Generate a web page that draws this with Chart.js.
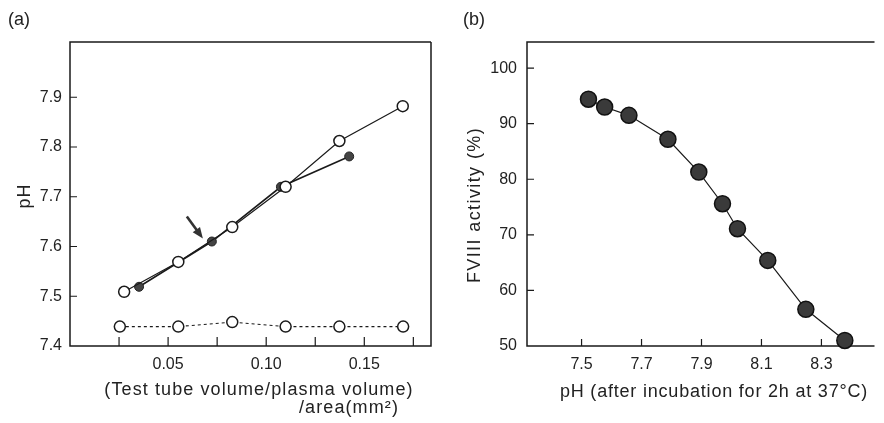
<!DOCTYPE html>
<html>
<head>
<meta charset="utf-8">
<script src="https://cdn.jsdelivr.net/npm/chart.js@4.4.0/dist/chart.umd.min.js"></script>
<style>
  html, body { margin: 0; padding: 0; background: #fff; }
  #wrap { position: relative; width: 884px; height: 423px; }
  canvas { position: absolute; top: 0; }
  #chart-a { left: 0; }
  #chart-b { left: 442px; }
</style>
</head>
<body>
<div id="wrap">
  <canvas id="chart-a" width="442" height="423"></canvas>
  <canvas id="chart-b" width="442" height="423"></canvas>
</div>
<script>
// (a) pH against (test tube volume / plasma volume) / area
const ratioOpen = [0.0276, 0.0552, 0.0827, 0.1099, 0.1373, 0.1696];
const phOpen = [7.509, 7.569, 7.639, 7.72, 7.812, 7.882];
const ratioFilled = [0.0352, 0.0723, 0.1075, 0.1423];
const phFilled = [7.519, 7.61, 7.72, 7.781];
const ratioControl = [0.0254, 0.0552, 0.0827, 0.1099, 0.1373, 0.1698];
const phControl = [7.439, 7.439, 7.448, 7.439, 7.439, 7.439];
const xTicksA = [0.025, 0.05, 0.075, 0.1, 0.125, 0.15, 0.175];
const xLabelsA = ['', '0.05', '', '0.10', '', '0.15', ''];
const yTicksA = [7.4, 7.5, 7.6, 7.7, 7.8, 7.9];

// (b) FVIII activity against pH after incubation
const phIncubated = [7.523, 7.577, 7.658, 7.788, 7.891, 7.970, 8.020, 8.121, 8.248, 8.378];
const fviiiActivity = [94.4, 93.0, 91.5, 87.2, 81.3, 75.6, 71.1, 65.4, 56.6, 51.0];
const xTicksB = [7.5, 7.7, 7.9, 8.1, 8.3];
const yTicksB = [50, 60, 70, 80, 90, 100];

const FONT = "'Liberation Sans', Arial, Helvetica, sans-serif";
const INK = '#1a1a1a';

function points(xs, ys) {
  return xs.map((x, i) => ({ x: x, y: ys[i] }));
}

// frame, inward tick marks, texts and the arrow
const panelPlugin = {
  id: 'panel',
  beforeDatasetsDraw(chart, args, opts) {
    const ctx = chart.ctx;
    const a = chart.chartArea;
    ctx.save();
    ctx.strokeStyle = INK;
    ctx.lineWidth = 1.5;
    ctx.beginPath();
    ctx.moveTo(a.right, a.top);
    ctx.lineTo(a.left, a.top);
    ctx.lineTo(a.left, a.bottom);
    ctx.lineTo(a.right, a.bottom);
    if (opts.closed) ctx.lineTo(a.right, a.top);
    ctx.stroke();

    ctx.lineWidth = 1.2;
    const xs = chart.scales.x;
    const ys = chart.scales.y;
    ctx.beginPath();
    xs.ticks.forEach(t => {
      const px = xs.getPixelForValue(t.value);
      if (px > a.left + 2 && px < a.right - 2) {
        ctx.moveTo(px, a.bottom);
        ctx.lineTo(px, a.bottom - opts.xTickLen);
      }
    });
    ys.ticks.forEach(t => {
      const py = ys.getPixelForValue(t.value);
      if (py > a.top + 2 && py < a.bottom - 2) {
        ctx.moveTo(a.left, py);
        ctx.lineTo(a.left + opts.yTickLen, py);
      }
    });
    ctx.stroke();
    ctx.restore();
  },
  afterDraw(chart, args, opts) {
    const ctx = chart.ctx;
    ctx.save();
    ctx.fillStyle = '#222';
    ctx.textBaseline = 'middle';
    (opts.texts || []).forEach(t => {
      ctx.save();
      ctx.font = (t.size || 18) + 'px ' + FONT;
      ctx.letterSpacing = (t.spacing || 0) + 'px';
      ctx.textAlign = t.align || 'center';
      ctx.translate(t.x, t.y);
      if (t.rotate) ctx.rotate(-Math.PI / 2);
      ctx.fillText(t.text, 0, 0);
      ctx.restore();
    });

    if (opts.arrow) {
      const p = chart.getDatasetMeta(opts.arrow.dataset).data[opts.arrow.index];
      const tipX = p.x - 9, tipY = p.y - 3;
      const tailX = tipX - 16, tailY = tipY - 22;
      const ang = Math.atan2(tipY - tailY, tipX - tailX);
      ctx.strokeStyle = '#333';
      ctx.fillStyle = '#333';
      ctx.lineWidth = 2.6;
      ctx.beginPath();
      ctx.moveTo(tailX, tailY);
      ctx.lineTo(tipX - 8 * Math.cos(ang), tipY - 8 * Math.sin(ang));
      ctx.stroke();
      ctx.beginPath();
      ctx.moveTo(tipX, tipY);
      ctx.lineTo(tipX - 11 * Math.cos(ang) + 4.5 * Math.sin(ang), tipY - 11 * Math.sin(ang) - 4.5 * Math.cos(ang));
      ctx.lineTo(tipX - 11 * Math.cos(ang) - 4.5 * Math.sin(ang), tipY - 11 * Math.sin(ang) + 4.5 * Math.cos(ang));
      ctx.closePath();
      ctx.fill();
    }
    ctx.restore();
  }
};

function tickFont() {
  return { family: FONT, size: 16 };
}

new Chart(document.getElementById('chart-a'), {
  type: 'line',
  data: {
    datasets: [
      {
        data: points(ratioOpen, phOpen),
        borderColor: INK,
        borderWidth: 1.2,
        pointRadius: 5.5,
        pointBackgroundColor: '#fff',
        pointBorderColor: INK,
        pointBorderWidth: 1.5,
        clip: false
      },
      {
        data: points(ratioFilled, phFilled),
        borderColor: INK,
        borderWidth: 1.6,
        pointRadius: 4.5,
        pointBackgroundColor: '#444',
        pointBorderColor: '#222',
        pointBorderWidth: 1,
        clip: false
      },
      {
        data: points(ratioControl, phControl),
        borderColor: INK,
        borderWidth: 1.2,
        borderDash: [3, 3],
        pointRadius: 5.5,
        pointBackgroundColor: '#fff',
        pointBorderColor: INK,
        pointBorderWidth: 1.5,
        clip: false
      }
    ]
  },
  options: {
    responsive: false,
    animation: false,
    devicePixelRatio: 1,
    layout: { padding: { top: 42, right: 11, left: 0, bottom: 0 } },
    plugins: {
      legend: { display: false },
      tooltip: { enabled: false },
      panel: {
        closed: true,
        xTickLen: 9,
        yTickLen: 7,
        arrow: { dataset: 1, index: 1 },
        texts: [
          { text: '(a)', x: 8, y: 20, size: 18, align: 'left' },
          { text: 'pH', x: 25, y: 196, rotate: true, spacing: 1 },
          { text: '(Test tube volume/plasma volume)', x: 259, y: 390, spacing: 1.1 },
          { text: '/area(mm²)', x: 349, y: 408, spacing: 1.1 }
        ]
      }
    },
    scales: {
      x: {
        type: 'linear',
        min: 0,
        max: 0.184,
        grid: { display: false, drawTicks: false },
        border: { display: false },
        afterBuildTicks: s => { s.ticks = xTicksA.map(v => ({ value: v })); },
        afterFit: s => { s.height = 77; },
        ticks: {
          autoSkip: false,
          maxRotation: 0,
          padding: 9,
          color: '#222',
          font: tickFont(),
          callback: (v, i) => xLabelsA[i]
        }
      },
      y: {
        min: 7.4,
        max: 8.011,
        grid: { display: false, drawTicks: false },
        border: { display: false },
        afterBuildTicks: s => { s.ticks = yTicksA.map(v => ({ value: v })); },
        afterFit: s => { s.width = 70; },
        ticks: {
          autoSkip: false,
          padding: 8,
          color: '#222',
          font: tickFont(),
          callback: v => v.toFixed(1)
        }
      }
    }
  },
  plugins: [panelPlugin]
});

new Chart(document.getElementById('chart-b'), {
  type: 'line',
  data: {
    datasets: [
      {
        data: points(phIncubated, fviiiActivity),
        borderColor: INK,
        borderWidth: 1.2,
        pointRadius: 8,
        pointBackgroundColor: '#3a3a3a',
        pointBorderColor: '#111',
        pointBorderWidth: 1.5,
        clip: false
      }
    ]
  },
  options: {
    responsive: false,
    animation: false,
    devicePixelRatio: 1,
    layout: { padding: { top: 42, right: 0, left: 0, bottom: 0 } },
    plugins: {
      legend: { display: false },
      tooltip: { enabled: false },
      panel: {
        closed: false,
        xTickLen: 7,
        yTickLen: 7,
        texts: [
          { text: '(b)', x: 21, y: 20, size: 18, align: 'left' },
          { text: 'FVIII activity (%)', x: 33, y: 205, rotate: true, spacing: 1.4 },
          { text: 'pH (after incubation for 2h at 37°C)', x: 272, y: 392, spacing: 0.8 }
        ]
      }
    },
    scales: {
      x: {
        type: 'linear',
        min: 7.318,
        max: 8.477,
        grid: { display: false, drawTicks: false },
        border: { display: false },
        afterBuildTicks: s => { s.ticks = xTicksB.map(v => ({ value: v })); },
        afterFit: s => { s.height = 77; },
        ticks: {
          autoSkip: false,
          maxRotation: 0,
          padding: 9,
          color: '#222',
          font: tickFont(),
          callback: v => v.toFixed(1)
        }
      },
      y: {
        min: 50,
        max: 104.7,
        grid: { display: false, drawTicks: false },
        border: { display: false },
        afterBuildTicks: s => { s.ticks = yTicksB.map(v => ({ value: v })); },
        afterFit: s => { s.width = 85; },
        ticks: {
          autoSkip: false,
          padding: 10,
          color: '#222',
          font: tickFont(),
          callback: v => String(v)
        }
      }
    }
  },
  plugins: [panelPlugin]
});
</script>
</body>
</html>
